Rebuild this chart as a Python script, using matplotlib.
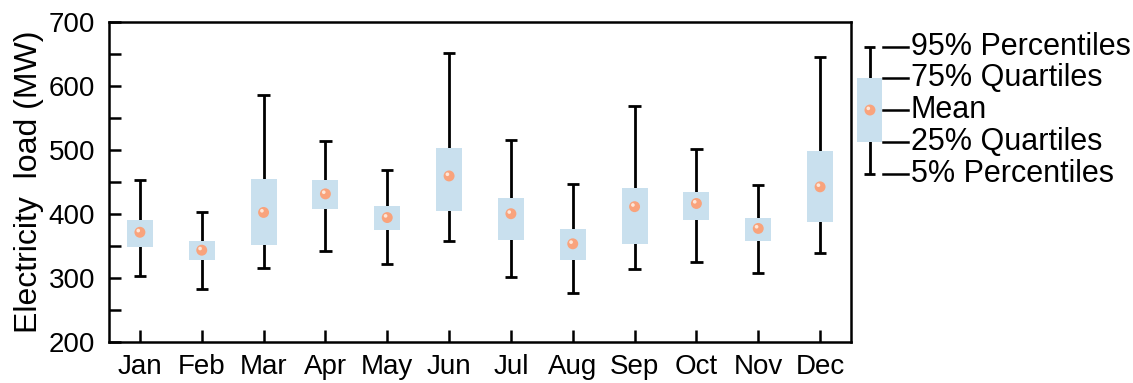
import numpy as np
import matplotlib.pyplot as plt
from matplotlib.ticker import MultipleLocator
from matplotlib.transforms import offset_copy

plt.rcParams['font.family'] = ['Liberation Sans', 'DejaVu Sans']
plt.rcParams['font.size'] = 20

# monthly electricity load statistics (MW)
months = ['Jan', 'Feb', 'Mar', 'Apr', 'May', 'Jun', 'Jul', 'Aug', 'Sep', 'Oct', 'Nov', 'Dec']
p95 = [452, 403, 586, 514, 468, 651, 515, 446, 569, 501, 445, 645]
q75 = [390, 358, 454, 452, 412, 503, 424, 376, 440, 434, 393, 498]
mean = [371, 343, 402, 431, 394, 459, 400, 353, 411, 416, 377, 442]
q25 = [348, 327, 351, 407, 374, 404, 359, 327, 353, 390, 358, 387]
p5 = [302, 283, 315, 342, 321, 357, 301, 276, 313, 325, 308, 339]

# legend sample (same units as main axis)
legend_vals = [661, 612, 562, 512, 462]
legend_labels = ['95% Percentiles', '75% Quartiles', 'Mean', '25% Quartiles', '5% Percentiles']

box_color = '#c9e0ee'
mean_color = '#f9a37c'

fig = plt.figure(figsize=(11.33, 3.83), dpi=100)
ax = fig.add_axes([0.0962, 0.1078, 0.6549, 0.8355])

x = np.arange(1, len(months) + 1)


def draw_box(a, xs, lo, b25, m, b75, hi, width, cap):
    xs = np.array(xs)
    a.vlines(xs, lo, hi, color='black', lw=2, zorder=1)
    a.hlines(lo, xs - cap / 2, xs + cap / 2, color='black', lw=2, zorder=1)
    a.hlines(hi, xs - cap / 2, xs + cap / 2, color='black', lw=2, zorder=1)
    a.bar(xs, np.array(b75) - np.array(b25), bottom=b25, width=width,
          color=box_color, edgecolor='none', zorder=2)
    a.scatter(xs, m, s=62, color=mean_color, edgecolor='none', zorder=3)
    hl = offset_copy(a.transData, fig=fig, x=-1.2, y=1.2, units='points')
    a.scatter(xs, m, s=7, color='#fde6d8', edgecolor='none', zorder=4, transform=hl)


draw_box(ax, x, p5, q25, mean, q75, p95, 0.42, 0.2)

ax.set_xlim(0.5, 12.5)
ax.set_ylim(200, 700)
ax.set_xticks(x)
ax.set_xticklabels(months)
ax.yaxis.set_major_locator(MultipleLocator(100))
ax.yaxis.set_minor_locator(MultipleLocator(50))
ax.tick_params(axis='both', which='both', direction='in', length=8.5, width=1.8,
               top=False, right=False, labelsize=20)
ax.tick_params(axis='y', pad=10)
ax.tick_params(axis='x', pad=9)
ax.tick_params(axis='x', which='minor', bottom=False)
for s in ax.spines.values():
    s.set_linewidth(1.8)
ax.set_ylabel('Electricity  load (MW)', fontsize=23, labelpad=3)

# legend drawn as a small box sample beside the plot
lax = fig.add_axes([0.7546, 0.1078, 0.2454, 0.8355])
lax.set_xlim(0, 278)
lax.set_ylim(200, 700)
lax.axis('off')
draw_box(lax, [15], [legend_vals[4]], [legend_vals[3]], [legend_vals[2]],
         [legend_vals[1]], [legend_vals[0]], 25, 11)
for v, lab in zip(legend_vals, legend_labels):
    lax.plot([28, 53], [v, v], color='black', lw=1.8)
    lax.text(56, v, lab, va='center', ha='left', fontsize=22)

fig.savefig('out.png', dpi=100)
